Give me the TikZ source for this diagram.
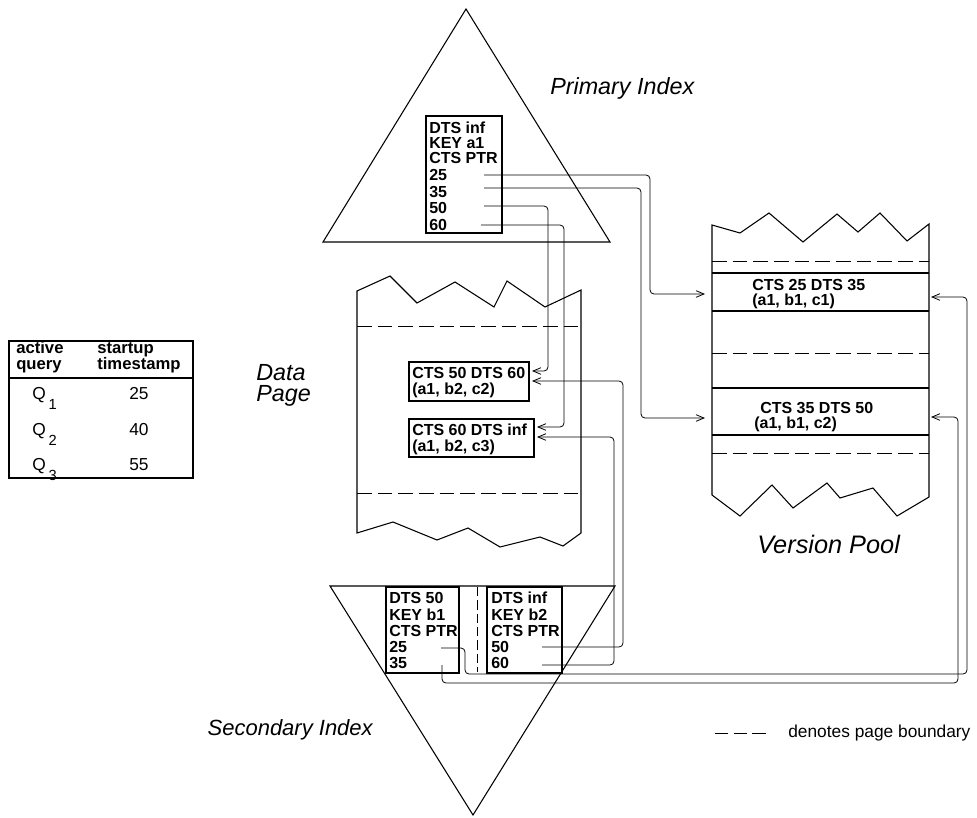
\documentclass[tikz,border=0pt]{standalone}
\usepackage{fontspec}
\setmainfont{Liberation Sans}
\usetikzlibrary{arrows.meta}
\begin{document}
\begin{tikzpicture}[x=0.75pt,y=-0.75pt,
  outl/.style={draw, line width=0.8pt, line join=miter},
  conn/.style={draw, line width=0.6pt, rounded corners=3pt, -{Straight Barb[length=6pt,width=5pt]}},
  pgb/.style={draw, line width=0.7pt, dash pattern=on 11pt off 4.5pt},
  lbl/.style={font=\fontsize{17.5}{16}\selectfont\itshape, inner sep=0, align=left},
  bt/.style={font=\fontsize{12}{12}\selectfont\bfseries, inner sep=0, anchor=base west},
  tb/.style={font=\fontsize{12.5}{12.5}\selectfont\bfseries, inner sep=0, anchor=base west},
  tr/.style={font=\fontsize{13}{13}\selectfont, inner sep=0, anchor=base west}]
\useasboundingbox (0,0) rectangle (977,817);

% ---------- Primary index ----------
\draw[outl] (466,9) -- (323,242) -- (610,242) -- cycle;
\draw[outl] (426,116) rectangle (502,233);
\node[bt] (pa) at (429,133) {DTS inf};
\node[bt] (pb) at (429,148) {KEY a1};
\node[bt] (pc) at (429,163) {CTS PTR};
\node[bt] (pd) at (429,180) {25};
\node[bt] (pe) at (429,197) {35};
\node[bt] (pf) at (429,213) {50};
\node[bt] (pg) at (429,230) {60};
\node[lbl, anchor=west] (plab) at (550,88) {Primary Index};
\coordinate (pi25) at (484,175);
\coordinate (pi35) at (484,188);
\coordinate (pi50) at (484,206);
\coordinate (pi60) at (481,225);

% ---------- Data page ----------
\draw[outl] (581,290) -- (581,533) -- (563,546) -- (540,537) -- (500,547) -- (468,528) -- (437,540) -- (393,522) -- (357,533)
  -- (357,291) -- (390,276) -- (417,303) -- (455,282) -- (494,307) -- (507,281) -- (545,307) -- cycle;
\draw[pgb] (357,326) -- (581,326);
\draw[pgb] (357,493) -- (581,493);
\node[lbl, anchor=north west] (dlab) at (256,364) {Data\\Page};
\draw[outl] (409,362) rectangle (529,401);
\node[bt] (d1a) at (412,378) {CTS 50 DTS 60};
\node[bt] (d1b) at (412,394) {(a1, b2, c2)};
\draw[outl] (409,419) rectangle (534,457);
\node[bt] (d2a) at (412,435) {CTS 60 DTS inf};
\node[bt] (d2b) at (412,451) {(a1, b2, c3)};
\coordinate (d1u) at (532,371);
\coordinate (d1l) at (532,381);
\coordinate (d2u) at (537,427);
\coordinate (d2l) at (537,437);

% ---------- Version pool ----------
\draw[outl] (929,224) -- (929,497) -- (897,516) -- (873,488) -- (840,498) -- (827,483) -- (793,508) -- (772,485) -- (740,516) -- (712,495)
  -- (712,225) -- (740,233) -- (769,213) -- (803,242) -- (837,214) -- (858,232) -- (880,213) -- (907,241) -- cycle;
\draw[pgb] (712,261) -- (929,261);
\draw[outl] (712,273) -- (929,273);
\draw[outl] (712,311) -- (929,311);
\draw[pgb] (712,353) -- (929,353);
\draw[outl] (712,388) -- (929,388);
\draw[outl] (712,435) -- (929,435);
\draw[pgb] (712,453) -- (929,453);
\node[bt] (v1a) at (752,290) {CTS 25 DTS 35};
\node[bt] (v1b) at (752,305) {(a1, b1, c1)};
\node[bt] (v2a) at (760,413) {CTS 35 DTS 50};
\node[bt] (v2b) at (754,428) {(a1, b1, c2)};
\node[lbl, font=\fontsize{19}{19}\selectfont\itshape, anchor=base west] (vlab) at (757,553) {Version Pool};
\coordinate (v1w) at (705,294);
\coordinate (v2w) at (705,418);
\coordinate (v1e) at (931,297);
\coordinate (v2e) at (931,417);

% ---------- Secondary index ----------
\draw[outl] (330,586) -- (615,586) -- (473,815) -- cycle;
\draw[outl] (386,587) rectangle (459,673);
\draw[outl] (487,587) rectangle (562,673);
\draw[line width=0.7pt, dash pattern=on 7pt off 3pt] (477,587) -- (477,672);
\node[bt] (sa) at (389,603) {DTS 50};
\node[bt] (sb) at (389,620) {KEY b1};
\node[bt] (sc) at (389,636) {CTS PTR};
\node[bt] (sd) at (389,652) {25};
\node[bt] (se) at (389,668) {35};
\node[bt] (ta) at (491,603) {DTS inf};
\node[bt] (tb) at (491,620) {KEY b2};
\node[bt] (tc) at (491,636) {CTS PTR};
\node[bt] (td) at (491,652) {50};
\node[bt] (te) at (491,668) {60};
\node[lbl, font=\fontsize{16.5}{16}\selectfont\itshape, anchor=base east] (slab) at (373,735) {Secondary Index};
\coordinate (si25) at (441,648);
\coordinate (si35) at (442,665);
\coordinate (si50) at (542,647);
\coordinate (si60) at (542,665);

% ---------- Table ----------
\draw[outl] (9,341) rectangle (193,478);
\draw[outl] (9,378) -- (193,378);
\node[tb] (h1) at (16,353) {active};
\node[tb] (h2) at (16,369) {query};
\node[tb] (h3) at (97,353) {startup};
\node[tb] (h4) at (97,369) {timestamp};
\node[tr] (q1) at (32,399) {Q\,\raisebox{-8pt}{\fontsize{11}{11}\selectfont 1}};
\node[tr] (q2) at (32,435) {Q\,\raisebox{-8pt}{\fontsize{11}{11}\selectfont 2}};
\node[tr] (q3) at (32,470) {Q\,\raisebox{-8pt}{\fontsize{11}{11}\selectfont 3}};
\node[tr] (n1) at (129,399) {25};
\node[tr] (n2) at (129,435) {40};
\node[tr] (n3) at (129,470) {55};

% ---------- Legend ----------
\draw[line width=0.7pt, dash pattern=on 10pt off 4pt] (715,733) -- (767,733);
\node[tr, anchor=west] (leg) at (788,733) {denotes page boundary};

% ---------- Connectors ----------
\draw[conn] (pi25) -- (650,175) -- (650,294) -- (v1w);
\draw[conn] (pi35) -- (641,188) -- (641,418) -- (v2w);
\draw[conn] (pi50) -- (548,206) -- (548,371) -- (d1u);
\draw[conn] (pi60) -- (564,225) -- (564,427) -- (d2u);
\draw[conn] (si50) -- (623,647) -- (623,381) -- (d1l);
\draw[conn] (si60) -- (614,665) -- (614,437) -- (d2l);
\draw[conn] (si25) -- (465,648) -- (465,674) -- (967,674) -- (967,297) -- (v1e);
\draw[conn] (si35) -- (442,683) -- (958,683) -- (958,417) -- (v2e);
\end{tikzpicture}
\end{document}
